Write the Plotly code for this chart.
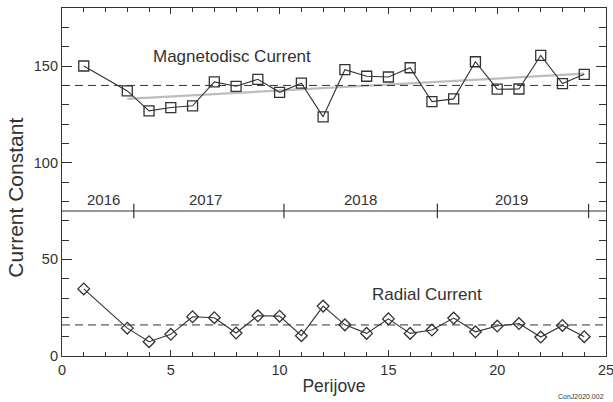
import numpy as np
import plotly.graph_objects as go

# Juno perijove numbers (PJ2 missing)
perijove = [1, 3, 4, 5, 6, 7, 8, 9, 10, 11, 12, 13, 14, 15, 16, 17, 18, 19,
            20, 21, 22, 23, 24]
magnetodisc = [150.0, 137.1, 126.8, 128.5, 129.4, 141.8, 139.5, 143.1, 136.4,
               141.1, 123.7, 148.1, 144.7, 144.3, 149.1, 131.6, 133.0, 152.2,
               138.0, 138.1, 155.5, 140.9, 145.7]
radial = [34.7, 14.4, 7.4, 11.2, 20.3, 19.8, 11.9, 20.8, 20.6, 10.5, 25.8,
          16.1, 11.7, 19.2, 11.7, 13.4, 19.6, 12.5, 15.5, 16.8, 9.8, 15.8, 10.0]

# year boundaries along the perijove axis
year_edges = [3.3, 10.2, 17.25, 24.2]
year_labels = ["2016", "2017", "2018", "2019"]
year_label_x = [1.9, 6.6, 13.7, 20.65]
year_bar_y = 75
year_tick_half = 3.7

DARK = "#333333"
FONT = "Liberation Sans, Arial, sans-serif"

x = np.array(perijove)
mag = np.array(magnetodisc)
rad = np.array(radial)

# linear trend for perijoves 3..24
sel = x >= 3
coef = np.polyfit(x[sel], mag[sel], 1)
trend_x = np.array([x[sel][0], x[sel][-1]])
trend_y = np.polyval(coef, trend_x)

fig = go.Figure()

fig.add_trace(go.Scatter(x=trend_x, y=trend_y, mode="lines",
                         line=dict(color="#bdbdbd", width=2.2),
                         hoverinfo="skip"))
fig.add_hline(y=mag.mean(), line=dict(color=DARK, width=1, dash="8px,5px"))
fig.add_hline(y=rad.mean(), line=dict(color=DARK, width=1, dash="8px,5px"))

fig.add_trace(go.Scatter(x=x, y=mag, mode="lines+markers",
                         line=dict(color=DARK, width=1.1),
                         marker=dict(symbol="square-open", size=10,
                                     color=DARK, line=dict(width=1.3))))
fig.add_trace(go.Scatter(x=x, y=rad, mode="lines+markers",
                         line=dict(color=DARK, width=1.1),
                         marker=dict(symbol="diamond-open", size=9,
                                     color=DARK, line=dict(width=1.3))))

# year bar
fig.add_hline(y=year_bar_y, line=dict(color=DARK, width=1.2))
for xe in year_edges:
    fig.add_trace(go.Scatter(x=[xe, xe],
                             y=[year_bar_y - year_tick_half,
                                year_bar_y + year_tick_half],
                             mode="lines", line=dict(color=DARK, width=1.2),
                             hoverinfo="skip"))
for lx, lab in zip(year_label_x, year_labels):
    fig.add_annotation(x=lx, y=year_bar_y + 0.3, text=lab, showarrow=False,
                       yanchor="bottom", font=dict(size=15, color=DARK))

fig.add_annotation(x=4.1, y=155, text="Magnetodisc Current", showarrow=False,
                   xanchor="left", font=dict(size=17, color=DARK))
fig.add_annotation(x=14.15, y=31.8, text="Radial Current", showarrow=False,
                   xanchor="left", font=dict(size=17, color=DARK))
fig.add_annotation(x=1, y=-0.115, xref="paper", yref="paper", xanchor="right",
                   yanchor="middle", text="ConJ2020.002",
                   showarrow=False, font=dict(size=7, color=DARK))
# y title sits a little below the axis centre in the original
fig.add_annotation(x=-0.086, y=82, xref="paper", yref="y", textangle=-90,
                   xanchor="center", yanchor="middle",
                   text="Current Constant", showarrow=False,
                   font=dict(size=21, color=DARK))

axis_common = dict(showline=True, linecolor=DARK, linewidth=1.2,
                   mirror="allticks", ticks="inside", tickcolor=DARK,
                   showgrid=False, zeroline=False, automargin=False,
                   tickfont=dict(size=14.5, color=DARK))

fig.update_xaxes(range=[0, 25], tickvals=[0, 5, 10, 15, 20, 25], ticklen=6,
                 ticklabeloverflow="allow",
                 minor=dict(dtick=1, ticks="inside", ticklen=4,
                            tickcolor=DARK),
                 title=dict(text="Perijove", font=dict(size=17.5, color=DARK),
                            standoff=3),
                 **axis_common)
fig.update_yaxes(range=[0, 180], tickvals=[0, 50, 100, 150], ticklen=10,
                 minor=dict(dtick=10, ticks="inside", ticklen=7,
                            tickcolor=DARK),
                 **axis_common)

fig.update_layout(width=613, height=402, showlegend=False,
                  margin=dict(l=62, r=7, t=8, b=46),
                  plot_bgcolor="white", paper_bgcolor="white",
                  font=dict(family=FONT, color=DARK))

# drop the browser's default body margin so the figure fills the window
fig.write_html("out.html", config={"displayModeBar": False},
               post_script="document.body.style.margin='0';"
                           "document.body.style.overflow='hidden';")
